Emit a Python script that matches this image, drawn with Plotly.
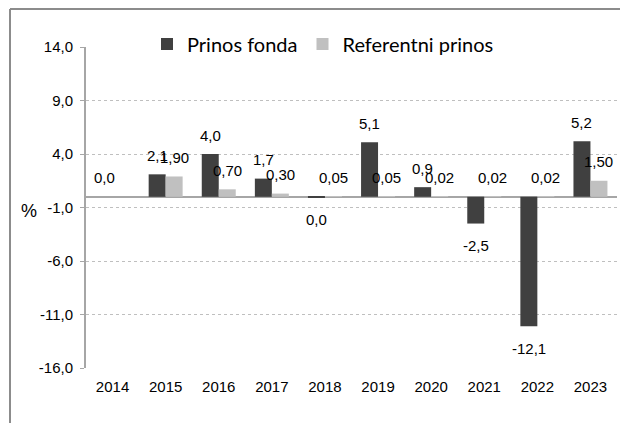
import plotly.graph_objects as go

years = ["2014", "2015", "2016", "2017", "2018", "2019", "2020", "2021", "2022", "2023"]
prinos_fonda = [0.0, 2.1, 4.0, 1.7, -0.02, 5.1, 0.9, -2.5, -12.1, 5.2]
prinos_fonda_labels = ["0,0", "2,1", "4,0", "1,7", "0,0", "5,1", "0,9", "-2,5", "-12,1", "5,2"]
referentni = [None, 1.90, 0.70, 0.30, 0.05, 0.05, 0.02, 0.02, 0.02, 1.50]
referentni_labels = ["", "1,90", "0,70", "0,30", "0,05", "0,05", "0,02", "0,02", "0,02", "1,50"]
ytick_vals = [-16, -11, -6, -1, 4, 9, 14]
ytick_text = ["-16,0", "-11,0", "-6,0", "-1,0", "4,0", "9,0", "14,0"]

# page has an 8px body margin; figure is drawn at offset (8, 8)
OFF = 8
W, H = 628 - OFF, 423 - OFF
L, R, T, B = 86 - OFF, 11, 47 - OFF, 55
pw, ph = W - L - R, H - T - B

DARK = "#404040"
LIGHT = "#c0c0c0"
AXIS = "#a6a6a6"


def px_x(x):
    return (x - OFF - L) / pw


def px_y(y):
    return (H - B - (y - OFF)) / ph


fig = go.Figure()
fig.add_trace(go.Bar(name="Prinos fonda", x=years, y=prinos_fonda, marker_color=DARK,
                     marker_line_width=0))
fig.add_trace(go.Bar(name="Referentni prinos", x=years, y=referentni, marker_color=LIGHT,
                     marker_line_width=0))

cat_w = pw / len(years)
bargap = 0.36
bar_w = cat_w * (1 - bargap) / 2
annotations = []
for vals, labels, sh in ((prinos_fonda, prinos_fonda_labels, -bar_w / 2),
                         (referentni, referentni_labels, bar_w / 2)):
    for i, (v, t) in enumerate(zip(vals, labels)):
        if v is None or t == "":
            continue
        annotations.append(dict(x=i, y=v, text=t, showarrow=False, xshift=sh,
                                yshift=19 if v >= 0 else -22, yanchor="middle",
                                font=dict(family="Liberation Sans, Arial", size=15, color="#000000")))

annotations.append(dict(xref="paper", yref="paper", x=px_x(29), y=px_y(211),
                        text="%", showarrow=False, xanchor="center", yanchor="middle",
                        font=dict(family="Liberation Sans, Arial", size=18, color="#000000")))

shapes = [
    dict(type="line", xref="paper", yref="paper", x0=px_x(10), x1=px_x(640),
         y0=px_y(9), y1=px_y(9), line=dict(color="#8c8c8c", width=2)),
    dict(type="line", xref="paper", yref="paper", x0=px_x(10), x1=px_x(10),
         y0=px_y(9), y1=px_y(440), line=dict(color="#8c8c8c", width=2)),
]

fig.update_layout(
    width=W, height=H,
    margin=dict(l=L, r=R, t=T, b=B),
    paper_bgcolor="white", plot_bgcolor="white",
    barmode="group", bargap=bargap, bargroupgap=0,
    font=dict(family="Liberation Sans, Arial", size=15, color="#000000"),
    legend=dict(orientation="h", x=px_x(147), y=px_y(44),
                xanchor="left", yanchor="middle", bgcolor="rgba(0,0,0,0)",
                font=dict(family="Lato", size=20, color="#000000"),
                itemclick=False),
    annotations=annotations,
    shapes=shapes,
    xaxis=dict(type="category", range=[-0.5, len(years) - 0.5], showgrid=False,
               showline=False, ticks="", tickfont=dict(size=15), ticklabelstandoff=8),
    yaxis=dict(range=[-16, 14], tickvals=ytick_vals, ticktext=ytick_text,
               showgrid=True, gridcolor="#bfbfbf", griddash="dot", gridwidth=1,
               showline=True, linecolor=AXIS, linewidth=2,
               ticks="outside", ticklen=4, tickcolor=AXIS, tickwidth=1,
               zeroline=True, zerolinecolor=AXIS, zerolinewidth=2,
               tickfont=dict(size=15), ticklabelstandoff=4),
)

fig.write_html("out.html")
